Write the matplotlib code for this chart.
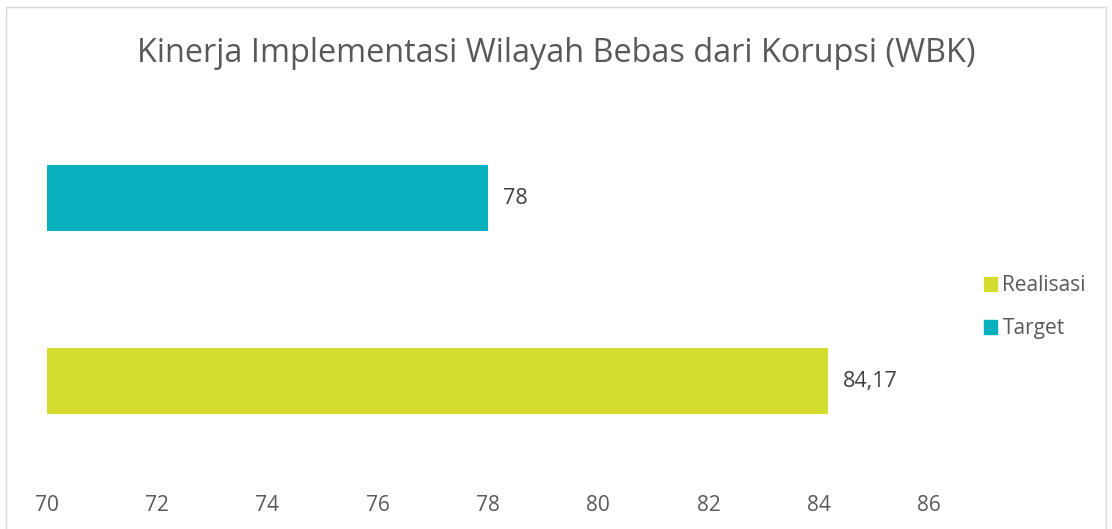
import matplotlib.pyplot as plt
from matplotlib.patches import Rectangle, Patch

plt.rcParams['font.family'] = ['Open Sans', 'DejaVu Sans']

categories = ["Realisasi", "Target"]
values = [84.17, 78]
labels = ["84,17", "78"]
colors = ["#D4DC30", "#06B1BD"]
xticks = [70, 72, 74, 76, 78, 80, 82, 84, 86]
title = "Kinerja Implementasi Wilayah Bebas dari Korupsi (WBK)"

W, H = 1112, 529
fig = plt.figure(figsize=(W / 100, H / 100), dpi=100)
ax = fig.add_axes([47 / W, 1 - 472.5 / H, (929 - 47) / W, (472.5 - 106.5) / H])

pos = range(len(categories))
bars = ax.barh(pos, [v - 70 for v in values], left=70, height=0.36, color=colors)
for b, lab in zip(bars, labels):
    ax.annotate(lab, (b.get_x() + b.get_width(), b.get_y() + b.get_height() / 2),
                xytext=(10.5, 0), textcoords="offset points", va="center", ha="left",
                fontsize=15.5, color="#404040")

ax.set_xlim(70, 86)
ax.set_ylim(-0.5, 1.5)
ax.set_xticks(xticks)
ax.set_xticklabels([str(t) for t in xticks])
ax.set_yticks([])
ax.tick_params(axis="x", length=0, pad=16, labelsize=15, labelcolor="#595959")
for s in ax.spines.values():
    s.set_visible(False)

fig.text(0.5, 1 - 53 / H, title, ha="center", va="center", fontsize=23.4, color="#595959")

handles = [Patch(color=c) for c in colors]
fig.legend(handles, categories, loc="center left", bbox_to_anchor=(965 / W, 1 - 307 / H),
           frameon=False, fontsize=15, labelcolor="#595959", handlelength=0.65,
           handleheight=0.65, handletextpad=0.25, labelspacing=1.05)

fig.patches.append(Rectangle((6 / W, -0.1), (1106 - 6) / W, 1.1 - 7 / H,
                             transform=fig.transFigure, fill=False,
                             edgecolor="#D9D9D9", linewidth=1))

fig.savefig("out.png", dpi=100)
